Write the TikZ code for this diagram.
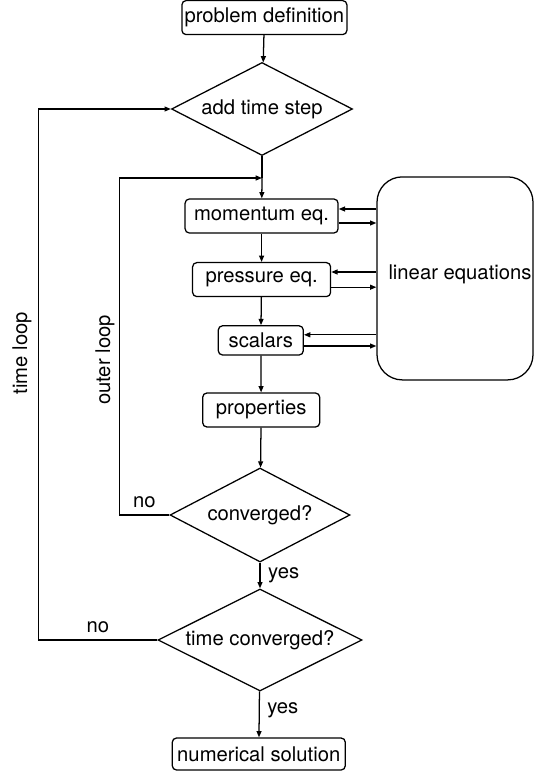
\documentclass[tikz,border=0pt]{standalone}
\usepackage{fontspec}
\setmainfont{TeX Gyre Heros}
\usetikzlibrary{shapes.geometric,arrows.meta}

\begin{document}
\begin{tikzpicture}[
    every node/.style={font=\fontsize{14.4}{16}\selectfont},
    box/.style={draw,rounded corners=3pt,line width=0.9pt,inner sep=1pt,minimum height=0.85cm},
    dec/.style={draw,diamond,aspect=2,inner sep=0pt,line width=0.9pt},
    arr/.style={-{Triangle[length=4.5pt,width=3.5pt]},line width=0.9pt},
    ln/.style={line width=0.9pt}]
    \useasboundingbox (0,0) rectangle (13.325,-19.4);

    \node[box,minimum width=4.125cm] (def) at (6.61,-0.44) {problem definition};
    \node[dec,minimum width=4.525cm,minimum height=2.325cm] (step) at (6.55,-2.725) {add time step};
    \coordinate (join) at (6.55,-4.45);

    \node[box,minimum width=3.825cm] (mom) at (6.54,-5.4) {momentum eq.};
    \node[box,minimum width=3.45cm] (pres) at (6.54,-6.99) {pressure eq.};
    \node[box,minimum width=2.125cm,minimum height=0.73cm] (scal) at (6.52,-8.51) {scalars};
    \node[box,minimum width=2.925cm] (prop) at (6.53,-10.25) {properties};
    \node[draw,rounded corners=18pt,line width=0.9pt,minimum width=3.9cm,minimum height=5.075cm] (lin) at (11.375,-6.96) {};
    \node (lintext) at (11.5,-6.85) {linear equations};

    \node[dec,minimum width=4.5cm,minimum height=2.35cm] (conv) at (6.5,-12.875) {converged?};
    \node[dec,minimum width=5.1cm,minimum height=2.55cm] (tconv) at (6.5,-16.0) {time converged?};
    \node[box,minimum width=4.325cm,minimum height=0.8cm] (sol) at (6.47,-18.85) {numerical solution};

    \node[rotate=90] (tloop) at (0.55,-8.83) {time loop};
    \node[rotate=90] (oloop) at (2.625,-9.0) {outer loop};

    % main line
    \draw[arr] (def) -- (step);
    \draw[ln] (step.south) -- (join);
    \draw[arr] (join) -- (mom);
    \draw[arr] (mom) -- (pres);
    \draw[arr] (pres) -- (scal);
    \draw[arr] (scal) -- (prop);
    \draw[arr] (prop) -- (conv);
    \draw[arr] (conv) -- node[right,xshift=2pt]{yes} (tconv);
    \draw[arr] (tconv) -- node[right,xshift=2pt,yshift=3pt]{yes} (sol);

    % solver
    \draw[arr] ([yshift=0.175cm]mom.east -| lin.west) -- ([yshift=0.175cm]mom.east);
    \draw[arr] ([yshift=-0.175cm]mom.east) -- ([yshift=-0.175cm]mom.east -| lin.west);
    \draw[arr] ([yshift=0.19cm]pres.east -| lin.west) -- ([yshift=0.19cm]pres.east);
    \draw[arr] ([yshift=-0.19cm]pres.east) -- ([yshift=-0.19cm]pres.east -| lin.west);
    \draw[arr] ([yshift=0.14cm]scal.east -| lin.west) -- ([yshift=0.14cm]scal.east);
    \draw[arr] ([yshift=-0.14cm]scal.east) -- ([yshift=-0.14cm]scal.east -| lin.west);

    % loops
    \draw[arr] (conv.west) -- node[above,yshift=1pt]{no} ++(-1.25,0) |- (join);
    \draw[arr] (tconv.west) -- node[above,yshift=1pt]{no} ++(-2.975,0) |- (step.west);
\end{tikzpicture}
\end{document}
